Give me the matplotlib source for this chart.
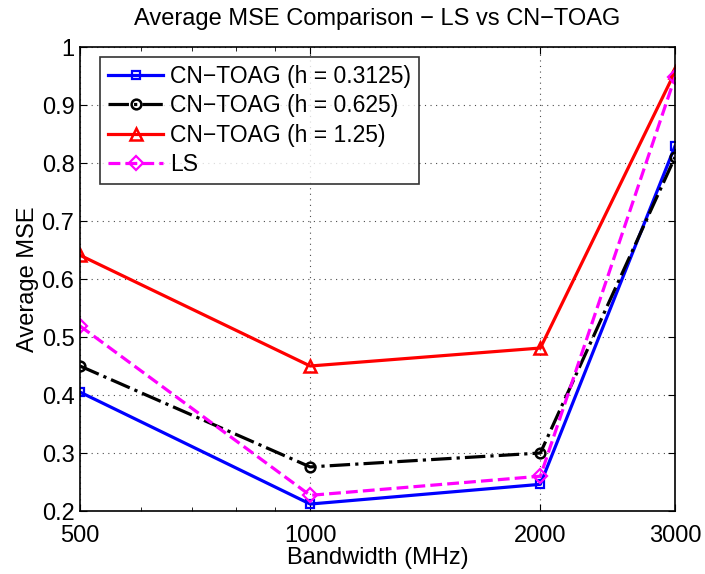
import matplotlib
matplotlib.use("Agg")
import matplotlib.pyplot as plt
from matplotlib.ticker import NullFormatter, LogLocator

bandwidth = [500, 1000, 2000, 3000]
mse_h03125 = [0.405, 0.212, 0.246, 0.829]
mse_h0625 = [0.450, 0.276, 0.300, 0.810]
mse_h125 = [0.641, 0.450, 0.481, 0.957]
mse_ls = [0.519, 0.227, 0.260, 0.948]
xtick_vals = [500, 1000, 2000, 3000]

plt.rcParams['font.family'] = ['Liberation Sans', 'DejaVu Sans']

fig = plt.figure(figsize=(7.05, 5.74), dpi=100)
ax = fig.add_axes([80 / 705, 1 - 511 / 574, 595 / 705, 464 / 574])

ax.plot(bandwidth, mse_h03125, color='blue', lw=2.3, marker='s', ms=6, mfc='none',
        mew=1.6, label='CN\u2212TOAG (h = 0.3125)')
ax.plot(bandwidth, mse_h0625, color='black', lw=2.3, ls='-.', marker='o', ms=7, mfc='none',
        mew=1.8, label='CN\u2212TOAG (h = 0.625)')
ax.plot(bandwidth, mse_h125, color='red', lw=2.3, marker='^', ms=9, mfc='none',
        mew=1.8, label='CN\u2212TOAG (h = 1.25)')
ax.plot(bandwidth, mse_ls, color='magenta', lw=2.3, ls='--', marker='D', ms=7, mfc='none',
        mew=1.6, label='LS')

ax.set_xscale('log')
ax.set_xlim(500, 3000)
ax.set_ylim(0.2, 1.0)
ax.set_xticks(xtick_vals)
ax.set_xticklabels([str(v) for v in xtick_vals])
ax.xaxis.set_minor_locator(LogLocator(subs='auto'))
ax.xaxis.set_minor_formatter(NullFormatter())
ax.set_yticks([0.2, 0.3, 0.4, 0.5, 0.6, 0.7, 0.8, 0.9, 1.0])
ax.set_yticklabels(['0.2', '0.3', '0.4', '0.5', '0.6', '0.7', '0.8', '0.9', '1'])

ax.grid(True, which='major', ls=(0, (1, 4)), color='black', lw=0.8, alpha=0.7)
ax.tick_params(which='both', direction='in', top=True, right=True, labelsize=17)
ax.tick_params(which='major', length=5)
ax.tick_params(which='minor', length=3)
ax.tick_params(axis='x', pad=10)
ax.tick_params(axis='y', pad=4)
for s in ax.spines.values():
    s.set_linewidth(1.2)

ax.set_xlabel('Bandwidth (MHz)', fontsize=17, labelpad=0)
ax.set_ylabel('Average MSE', fontsize=17, labelpad=2)
ax.set_title('Average MSE Comparison \u2212 LS vs CN\u2212TOAG', fontsize=17, pad=16)

leg = ax.legend(loc='upper left', fontsize=16.5, frameon=True, fancybox=False,
                edgecolor='black', bbox_to_anchor=(20 / 595, 1 - 10 / 464),
                borderaxespad=0, handlelength=2.4, handletextpad=0.3,
                labelspacing=0.28, borderpad=0.35)
leg.get_frame().set_linewidth(1.2)

fig.savefig('out.png', dpi=100)
